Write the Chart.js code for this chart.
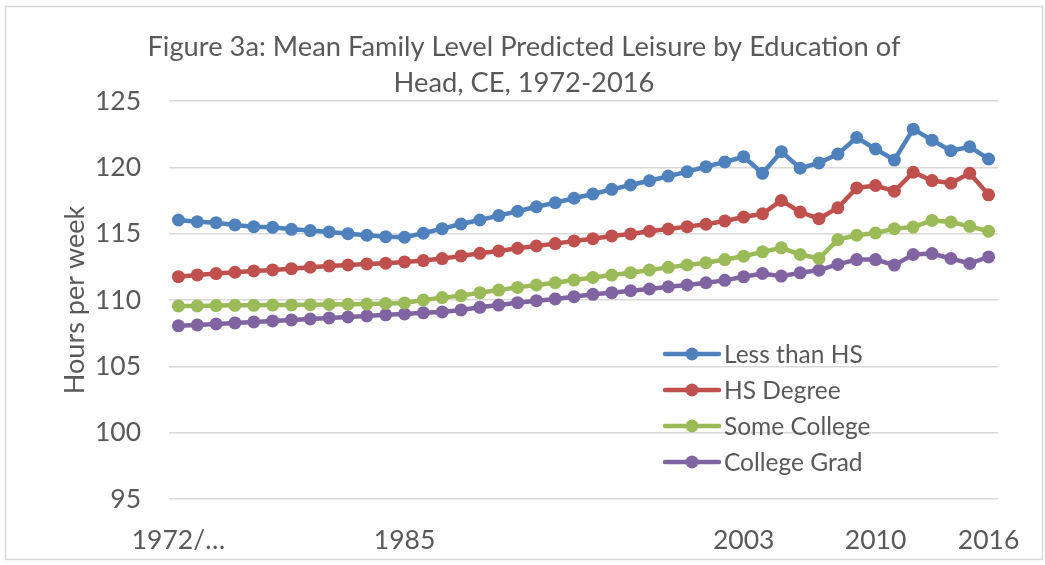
<!DOCTYPE html>
<html>
<head>
<meta charset="utf-8">
<script src="https://cdn.jsdelivr.net/npm/chart.js@4"></script>
<style>
  html, body { margin: 0; padding: 0; background: #ffffff; }
  #wrap { position: relative; width: 1045px; height: 565px; }
</style>
</head>
<body>
<div id="wrap"><canvas id="c" width="1045" height="565"></canvas></div>
<script>
// ---- data ----
const categories = ["1972/73","1974","1975","1976","1977","1978","1979","1980","1981","1982","1983","1984","1985","1986","1987","1988","1989","1990","1991","1992","1993","1994","1995","1996","1997","1998","1999","2000","2001","2002","2003","2004","2005","2006","2007","2008","2009","2010","2011","2012","2013","2014","2015","2016"];
const shownTicks = ["1972/…","1985","2003","2010","2016"];
const seriesNames = ["Less than HS","HS Degree","Some College","College Grad"];

const lessThanHS = [116.03,115.9,115.83,115.66,115.53,115.48,115.33,115.23,115.13,115.0,114.88,114.77,114.73,115.03,115.38,115.73,116.03,116.36,116.69,117.03,117.33,117.67,117.99,118.34,118.67,118.99,119.34,119.67,120.05,120.4,120.8,119.55,121.18,119.93,120.33,121.0,122.25,121.38,120.55,122.88,122.05,121.25,121.55,120.63];
const hsDegree = [111.76,111.89,111.99,112.09,112.19,112.27,112.36,112.47,112.57,112.64,112.72,112.77,112.87,112.97,113.12,113.32,113.52,113.7,113.9,114.07,114.25,114.45,114.62,114.83,114.98,115.18,115.35,115.53,115.71,115.96,116.25,116.5,117.5,116.63,116.13,116.95,118.45,118.63,118.2,119.63,119.0,118.8,119.55,117.93];
const someCollege = [109.55,109.55,109.58,109.6,109.6,109.62,109.63,109.65,109.66,109.68,109.7,109.74,109.78,110.0,110.18,110.33,110.55,110.75,110.95,111.13,111.3,111.5,111.7,111.88,112.06,112.26,112.46,112.64,112.81,113.05,113.3,113.63,113.93,113.43,113.13,114.55,114.88,115.05,115.38,115.5,116.0,115.88,115.55,115.18];
const collegeGrad = [108.05,108.12,108.2,108.27,108.35,108.42,108.5,108.57,108.65,108.72,108.8,108.88,108.95,109.03,109.1,109.25,109.45,109.62,109.8,109.95,110.08,110.25,110.43,110.55,110.7,110.83,111.0,111.13,111.3,111.48,111.75,112.0,111.8,112.05,112.25,112.68,113.05,113.05,112.63,113.43,113.5,113.13,112.75,113.25];

const yMin = 95, yMax = 125, yStep = 5;

// ---- styles ----
const colors = ["#4F81BD","#C0504D","#9BBB59","#8064A2"];
const FONT = "Lato";
const TEXT = "#595959";

function ds(label, data, color) {
  return {
    label, data,
    borderColor: color, backgroundColor: color,
    pointBackgroundColor: color, pointBorderColor: color,
    borderWidth: 4.5, pointRadius: 6.5, pointHoverRadius: 6.5, pointBorderWidth: 0,
    tension: 0, fill: false
  };
}

const borderPlugin = {
  id: 'frame',
  beforeDraw(chart) {
    const ctx = chart.ctx;
    ctx.save();
    ctx.fillStyle = '#ffffff';
    ctx.fillRect(0, 0, chart.width, chart.height);
    ctx.strokeStyle = '#d9d9d9';
    ctx.lineWidth = 1.5;
    ctx.strokeRect(5.5, 6.5, 1037, 553);
    ctx.restore();
  }
};

const legendPlugin = {
  id: 'insideLegend',
  afterDraw(chart) {
    const ctx = chart.ctx;
    const x0 = 665, x1 = 719, tx = 724, y0 = 354, dy = 36;
    ctx.save();
    chart.data.datasets.forEach((d, i) => {
      const y = y0 + i * dy;
      ctx.strokeStyle = d.borderColor;
      ctx.lineWidth = 4.5;
      ctx.lineCap = 'round';
      ctx.beginPath(); ctx.moveTo(x0, y); ctx.lineTo(x1, y); ctx.stroke();
      ctx.fillStyle = d.borderColor;
      ctx.beginPath(); ctx.arc((x0 + x1) / 2, y, 6.5, 0, Math.PI * 2); ctx.fill();
      ctx.fillStyle = TEXT;
      ctx.font = "24.5px " + FONT;
      ctx.textBaseline = 'middle';
      ctx.textAlign = 'left';
      ctx.fillText(d.label, tx, y + 1);
    });
    ctx.restore();
  }
};

new Chart(document.getElementById('c'), {
  type: 'line',
  data: {
    labels: categories,
    datasets: [
      ds(seriesNames[0], lessThanHS, colors[0]),
      ds(seriesNames[1], hsDegree, colors[1]),
      ds(seriesNames[2], someCollege, colors[2]),
      ds(seriesNames[3], collegeGrad, colors[3])
    ]
  },
  options: {
    responsive: false,
    animation: false,
    devicePixelRatio: 1,
    layout: { padding: { left: 50, right: 47, top: 0, bottom: 0 } },
    plugins: {
      legend: { display: false },
      tooltip: { enabled: false },
      title: {
        display: true,
        text: ["Figure 3a: Mean Family Level Predicted Leisure by Education of", "Head, CE, 1972-2016"],
        color: TEXT,
        font: { family: FONT, size: 27.3, weight: 'normal', lineHeight: 36 / 27.3 },
        padding: { top: 29, bottom: 0 }
      }
    },
    scales: {
      x: {
        offset: true,
        grid: { display: false },
        border: { display: false },
        ticks: {
          autoSkip: false, maxRotation: 0, minRotation: 0,
          padding: 18,
          color: TEXT,
          font: { family: FONT, size: 26.5 },
          callback: function (v, i) {
            const lab = categories[i];
            if (i === 0) return shownTicks[0];
            const idx = shownTicks.indexOf(lab);
            return idx >= 0 ? lab : '';
          }
        },
        afterFit(scale) { scale.height = 66; }
      },
      y: {
        min: yMin, max: yMax,
        grid: { color: '#d9d9d9', lineWidth: 1.5, drawTicks: false },
        border: { display: false },
        ticks: {
          stepSize: yStep,
          padding: 28,
          color: TEXT,
          font: { family: FONT, size: 26.5 }
        },
        title: {
          display: true,
          text: 'Hours per week',
          color: TEXT,
          font: { family: FONT, size: 27 },
          padding: { top: 9, bottom: 0 }
        },
        afterFit(scale) { scale.width = 119; }
      }
    }
  },
  plugins: [borderPlugin, legendPlugin]
});
</script>
</body>
</html>
